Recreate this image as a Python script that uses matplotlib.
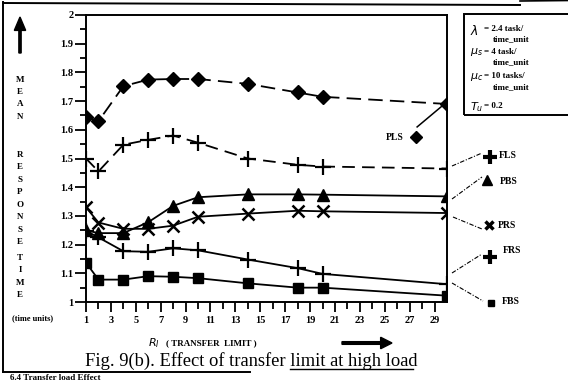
import numpy as np
import matplotlib
matplotlib.use("Agg")
import matplotlib.pyplot as plt
from matplotlib.lines import Line2D
from matplotlib.patches import Rectangle, FancyArrow

# transfer limit values (x) and mean response times per policy
r1 = [1, 2, 4, 6, 8, 10, 14, 18, 20, 30]
pls = [1.645, 1.63, 1.752, 1.775, 1.777, 1.777, 1.76, 1.73, 1.715, 1.69]
fls = [1.50, 1.455, 1.548, 1.565, 1.58, 1.555, 1.50, 1.478, 1.472, 1.465]
pbs = [1.25, 1.24, 1.24, 1.278, 1.335, 1.365, 1.375, 1.375, 1.374, 1.368]
prs = [1.33, 1.277, 1.255, 1.255, 1.266, 1.297, 1.308, 1.318, 1.316, 1.31]
frs = [1.248, 1.225, 1.177, 1.175, 1.187, 1.18, 1.148, 1.118, 1.098, 1.062]
fbs = [1.137, 1.078, 1.078, 1.09, 1.088, 1.083, 1.065, 1.05, 1.05, 1.022]

yticks = [1, 1.1, 1.2, 1.3, 1.4, 1.5, 1.6, 1.7, 1.8, 1.9, 2]
ytick_labels = ["1", "1.1", "1.2", "1.3", "1.4", "1.5", "1.6", "1.7", "1.8", "1.9", "2"]
xticks = list(range(1, 30, 2))

plt.rcParams['font.family'] = ['Liberation Serif', 'DejaVu Serif']

W, H = 568, 383
fig = plt.figure(figsize=(W / 100, H / 100), dpi=100)


def fx(x):
    return x / W


def fy(y):
    return 1 - y / H


ax = fig.add_axes([fx(86), fy(302), fx(447) - fx(86), fy(15) - fy(302)])

lw = 1.3
l1, = ax.plot(r1, pls, color='k', lw=lw, marker='D', ms=7.5)
l1.set_dashes([8, 4])
l2, = ax.plot(r1, fls, color='k', lw=lw, marker='+', ms=11, mew=1.6)
l2.set_dashes([7, 4])
ax.plot(r1, pbs, color='k', lw=lw, marker='^', ms=8)
ax.plot(r1, prs, color='k', lw=lw, marker='x', ms=8, mew=1.8)
ax.plot(r1, frs, color='k', lw=lw, marker='+', ms=11, mew=1.6)
ax.plot(r1, fbs, color='k', lw=lw, marker='s', ms=7)

ax.set_xlim(1, 30)
ax.set_ylim(1, 2)
ax.set_yticks(yticks)
ax.set_yticklabels(ytick_labels, fontsize=7.5, fontweight='bold')
ax.set_yticks(np.arange(1.05, 2, 0.1), minor=True)
ax.set_xticks(xticks)
ax.set_xticklabels([str(v) for v in xticks], fontsize=7.5, fontweight='bold')
ax.set_xticks(range(2, 30, 2), minor=True)
ax.tick_params(axis='y', which='major', direction='out', length=8, width=1.3, pad=1)
ax.tick_params(axis='y', which='minor', direction='out', length=4, width=1.3)
ax.tick_params(axis='x', which='major', direction='out', length=7, width=1.3, pad=3)
ax.tick_params(axis='x', which='minor', direction='out', length=5, width=1.3)
for s in ax.spines.values():
    s.set_linewidth(1.4)

# diamond label inside the plot
ax.plot([29.8, 27.6], [1.69, 1.61], color='k', lw=1.1, clip_on=False)
ax.plot([27.5], [1.575], marker='D', color='k', ms=6.5, clip_on=False)
fig.text(fx(404), fy(137), "PLS", fontsize=7, fontweight='bold', ha='right', va='center')

# callouts on the right side
callouts = [
    ((452, 166), (482, 153), (490, 157), '+', "FLS", (499, 156)),
    ((452, 199), (482, 177), (487, 180), '^', "PBS", (500, 182)),
    ((453, 217), (482, 229), (489, 225), 'x', "PRS", (498, 226)),
    ((452, 273), (482, 254), (490, 257), '+', "FRS", (503, 250)),
    ((452, 283), (483, 301), (491, 303), 's', "FBS", (502, 302)),
]
for p0, p1, pm, mk, lab, pt in callouts:
    fig.add_artist(Line2D([fx(p0[0]), fx(p1[0])], [fy(p0[1]), fy(p1[1])],
                          color='k', lw=0.8, ls=(0, (4, 1.5, 1, 1.5))))
    ms = {'+': 10, '^': 7, 'x': 6, 's': 5}[mk]
    mew = {'+': 3, '^': 1, 'x': 2.5, 's': 1}[mk]
    fig.add_artist(Line2D([fx(pm[0])], [fy(pm[1])], marker=mk, color='k', ms=ms, mew=mew))
    fig.text(fx(pt[0]), fy(pt[1]), lab, fontsize=7, fontweight='bold', va='center')

# parameter box
fig.add_artist(Rectangle((fx(464), fy(115)), fx(120), fy(14) - fy(115),
                         fill=False, ec='k', lw=1.4))
fs = 6.5
fig.text(fx(470), fy(31), r"$\lambda$", fontsize=9, fontweight='bold', va='center')
fig.text(fx(484), fy(29), "= 2.4 task/", fontsize=fs, fontweight='bold', va='center')
fig.text(fx(493), fy(39), "time_unit", fontsize=fs, fontweight='bold', va='center')
fig.text(fx(470), fy(52), r"$\mu_s$", fontsize=8, va='center')
fig.text(fx(484), fy(52), "= 4 task/", fontsize=fs, fontweight='bold', va='center')
fig.text(fx(493), fy(62), "time_unit", fontsize=fs, fontweight='bold', va='center')
fig.text(fx(470), fy(77), r"$\mu_c$", fontsize=8, va='center')
fig.text(fx(484), fy(76), "= 10 tasks/", fontsize=fs, fontweight='bold', va='center')
fig.text(fx(493), fy(87), "time_unit", fontsize=fs, fontweight='bold', va='center')
fig.text(fx(470), fy(107), r"$T_u$", fontsize=8, va='center')
fig.text(fx(484), fy(106), "= 0.2", fontsize=fs, fontweight='bold', va='center')

# vertical y label, letter by letter
letters = ["M", "E", "A", "N", "", "R", "E", "S", "P", "O", "N", "S", "E", "", "T", "I", "M", "E"]
ypos = [80, 92, 104, 117, None, 155, 167, 180, 192, 205, 217, 230, 242, None, 258, 270, 283, 295]
for ch, yp in zip(letters, ypos):
    if ch:
        fig.text(fx(20), fy(yp), ch, fontsize=6.5, fontweight='bold', ha='center', va='center')
fig.text(fx(12), fy(318), "(time units)", fontsize=6, fontweight='bold', va='center')

# arrows
fig.add_artist(FancyArrow(fx(20), fy(53), 0, fy(17) - fy(53), width=0.004,
                          head_width=0.02, head_length=0.035, length_includes_head=True,
                          color='k', transform=fig.transFigure))
fig.add_artist(FancyArrow(fx(342), fy(343), fx(392) - fx(342), 0, width=0.007,
                          head_width=0.03, head_length=0.02, length_includes_head=True,
                          color='k', transform=fig.transFigure))

fig.text(fx(148), fy(343), r"$R_I$", fontsize=8, va='center')
fig.text(fx(166), fy(343), "( TRANSFER  LIMIT )", fontsize=6.5, fontweight='bold', va='center')

# caption
fig.text(fx(85), fy(366), "Fig. 9(b). Effect of transfer limit at high load",
         fontsize=13.3, va='baseline')
fig.add_artist(Line2D([fx(290), fx(413)], [fy(369), fy(369)], color='k', lw=1))
fig.text(fx(10), fy(382.5), "6.4 Transfer load Effect", fontsize=6.5, fontweight='bold', va='bottom')

# scan frame
fig.add_artist(Line2D([fx(3), fx(3)], [fy(2), fy(372)], color='k', lw=1.4))
fig.add_artist(Line2D([fx(3), fx(520)], [fy(3), fy(5)], color='k', lw=1.4))
fig.add_artist(Line2D([fx(520), fx(568)], [fy(1), fy(0.5)], color='k', lw=1.2))
fig.add_artist(Line2D([fx(3), fx(250)], [fy(372), fy(372)], color='k', lw=1.4))

fig.savefig("out.png", dpi=100)
